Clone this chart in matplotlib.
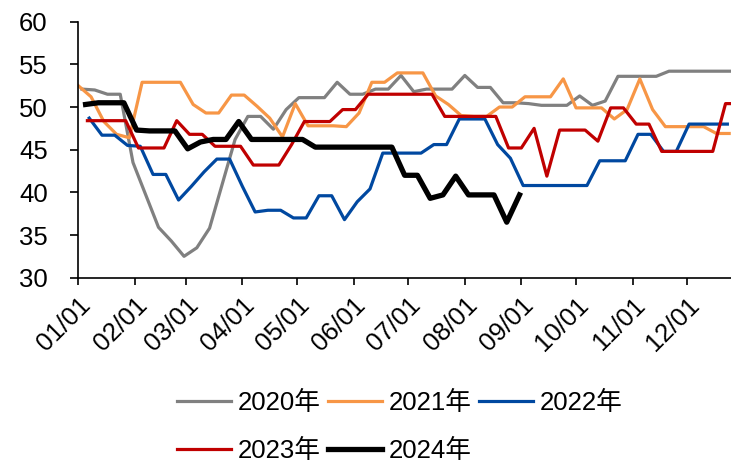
import numpy as np
import pandas as pd
import matplotlib
matplotlib.use("Agg")
import matplotlib.pyplot as plt

plt.rcParams['font.family'] = ['Liberation Sans', 'Noto Sans CJK SC', 'DejaVu Sans']

# weekly readings, first Friday of each year
years = ['2020年', '2021年', '2022年', '2023年', '2024年']
first_dates = ['2020-01-03', '2021-01-01', '2022-01-07', '2023-01-06', '2024-01-05']

v2020 = [52.1, 52.0, 51.5, 51.5, 43.5, 39.7, 35.9, 34.3, 32.5, 33.5, 35.8, 41.0, 46.2,
         48.9, 48.9, 47.4, 49.7, 51.1, 51.1, 51.1, 52.9, 51.5, 51.5, 52.1, 52.1, 53.7,
         51.8, 52.1, 52.1, 52.1, 53.7, 52.3, 52.3, 50.5, 50.5, 50.4, 50.2, 50.2, 50.2,
         51.3, 50.2, 50.7, 53.6, 53.6, 53.6, 53.6, 54.2, 54.2, 54.2, 54.2, 54.2, 54.2]
v2021 = [52.5, 51.2, 48.3, 46.8, 46.4, 52.9, 52.9, 52.9, 52.9, 50.3, 49.3, 49.3, 51.4,
         51.4, 50.1, 48.7, 46.5, 50.4, 47.8, 47.8, 47.8, 47.7, 49.3, 52.9, 52.9, 54.0,
         54.0, 54.0, 51.3, 50.3, 49.0, 48.9, 48.9, 50.0, 50.0, 51.2, 51.2, 51.2, 53.3,
         49.9, 49.9, 49.9, 48.6, 49.7, 53.3, 49.7, 47.7, 47.7, 47.7, 47.7, 46.9, 46.9]
v2022 = [48.7, 46.7, 46.7, 45.5, 45.4, 42.1, 42.1, 39.1, 40.7, 42.4, 43.9, 43.9, 40.7,
         37.7, 37.9, 37.9, 37.0, 37.0, 39.6, 39.6, 36.8, 38.9, 40.4, 44.6, 44.6, 44.6,
         44.6, 45.6, 45.6, 48.6, 48.6, 48.6, 45.6, 44.0, 40.8, 40.8, 40.8, 40.8, 40.8,
         40.8, 43.7, 43.7, 43.7, 46.8, 46.8, 44.8, 44.8, 48.0, 48.0, 48.0, 48.0]
v2023 = [48.4, 48.4, 48.4, 48.4, 45.2, 45.2, 45.2, 48.4, 46.8, 46.8, 45.4, 45.4, 45.4,
         43.2, 43.2, 43.2, 45.6, 48.3, 48.3, 48.3, 49.7, 49.7, 51.5, 51.5, 51.5, 51.5,
         51.5, 51.5, 48.9, 48.9, 48.9, 48.9, 48.9, 45.2, 45.2, 47.5, 41.9, 47.3, 47.3,
         47.3, 46.0, 49.9, 49.9, 48.0, 48.0, 44.8, 44.8, 44.8, 44.8, 44.8, 50.4, 50.4]
v2024 = [50.3, 50.5, 50.5, 50.5, 47.3, 47.2, 47.2, 47.2, 45.1, 45.9, 46.2, 46.2, 48.3,
         46.2, 46.2, 46.2, 46.2, 46.2, 45.3, 45.3, 45.3, 45.3, 45.3, 45.3, 45.3, 42.0,
         42.0, 39.3, 39.7, 41.9, 39.7, 39.7, 39.7, 36.5, 39.7]

month_labels = ['01/01', '02/01', '03/01', '04/01', '05/01', '06/01',
                '07/01', '08/01', '09/01', '10/01', '11/01', '12/01']

colors = ['#808080', '#F79646', '#0048A0', '#C00000', '#000000']
widths = [2.3, 2.3, 2.3, 2.3, 3.8]

fig = plt.figure(figsize=(7.31, 4.62), dpi=100)
ax = fig.add_axes([0.1071, 0.399, 0.8929, 0.554])

lines = []
for name, start, vals, c, lw in zip(years, first_dates, [v2020, v2021, v2022, v2023, v2024],
                                    colors, widths):
    day0 = pd.Timestamp(start).dayofyear - 1
    x = day0 + 7 * np.arange(len(vals))
    ln, = ax.plot(x, vals, color=c, lw=lw, label=name)
    lines.append(ln)

# month ticks on a common (non-leap) year
ticks = pd.date_range('2023-01-01', periods=12, freq='MS').dayofyear - 1
ax.set_xticks(ticks)
ax.set_xticklabels(month_labels, rotation=45, ha='right', va='top', rotation_mode='anchor')
ax.set_xlim(0, 358)
ax.set_ylim(30, 60)
ax.set_yticks(range(30, 61, 5))

for s in ['top', 'right']:
    ax.spines[s].set_visible(False)
for s in ['left', 'bottom']:
    ax.spines[s].set_linewidth(1.2)
ax.tick_params(axis='y', length=6, width=1.2, pad=16, labelsize=18.5)
ax.tick_params(axis='x', length=5, width=1.2, pad=6, labelsize=18.5)

# legend fills by column, so reorder to read row-wise like the original
order = [0, 3, 1, 4, 2]
fig.legend([lines[i] for i in order], [years[i] for i in order],
           loc='upper center', bbox_to_anchor=(0.547, 0.177), ncol=3, frameon=False,
           fontsize=18.5, handlelength=2.1, handletextpad=0.25, columnspacing=0.3,
           labelspacing=0.95, borderaxespad=0, bbox_transform=fig.transFigure)

fig.savefig('out.png', dpi=100)
